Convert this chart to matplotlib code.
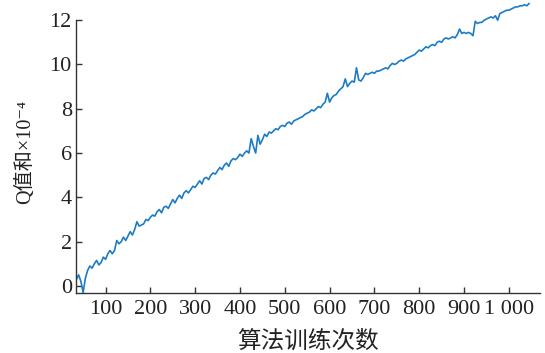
import matplotlib
matplotlib.use("Agg")
import matplotlib.pyplot as plt

plt.rcParams['font.family'] = ['Liberation Serif', 'Noto Sans CJK SC', 'DejaVu Sans']

# training iterations (every 5) and summed Q value (x 1e-4)
iterations = list(range(35, 1050, 5))
q_sum = [0.3, 0.5, 0.2, -0.3, 0.35, 0.7, 0.9, 0.8, 1.0, 1.15,
         0.95, 1.05, 1.3, 1.2, 1.45, 1.6, 1.45, 1.6, 2.05, 1.9,
         2.0, 2.2, 2.05, 2.25, 2.45, 2.3, 2.55, 2.9, 2.7, 2.75,
         2.8, 3.0, 2.95, 3.1, 3.2, 3.15, 3.35, 3.45, 3.3, 3.55,
         3.6, 3.5, 3.7, 3.9, 3.75, 3.95, 4.1, 3.95, 4.2, 4.3,
         4.2, 4.35, 4.5, 4.45, 4.6, 4.75, 4.6, 4.85, 4.9, 4.8,
         5.0, 5.1, 5.05, 5.2, 5.35, 5.25, 5.45, 5.55, 5.4, 5.65,
         5.75, 5.7, 5.8, 5.95, 5.85, 6.0, 6.1, 6.0, 6.65, 6.3,
         6.0, 6.8, 6.4, 6.6, 6.85, 6.75, 6.95, 6.9, 7.0, 7.1,
         7.05, 7.2, 7.25, 7.2, 7.35, 7.4, 7.3, 7.45, 7.5, 7.55,
         7.6, 7.65, 7.75, 7.8, 7.85, 7.95, 7.9, 8.0, 8.1, 8.05,
         8.2, 8.3, 8.7, 8.3, 8.5, 8.6, 8.65, 8.8, 8.9, 9.0,
         9.35, 9.0, 9.15, 9.25, 9.2, 9.85, 9.3, 9.25, 9.4, 9.6,
         9.55, 9.6, 9.65, 9.6, 9.7, 9.7, 9.75, 9.8, 9.85, 9.8,
         9.95, 10.05, 10.0, 10.05, 10.15, 10.2, 10.15, 10.25, 10.3, 10.35,
         10.4, 10.45, 10.55, 10.65, 10.6, 10.7, 10.8, 10.75, 10.85, 10.9,
         10.85, 11.0, 11.05, 11.0, 11.15, 11.2, 11.15, 11.2, 11.25, 11.2,
         11.35, 11.6, 11.4, 11.45, 11.4, 11.45, 11.4, 11.3, 11.95, 11.85,
         11.9, 11.9, 12.0, 12.05, 12.1, 12.15, 12.1, 12.2, 12.0, 12.3,
         12.35, 12.4, 12.45, 12.45, 12.5, 12.55, 12.6, 12.6, 12.65, 12.65,
         12.7, 12.65, 12.75]

xticks = [100, 200, 300, 400, 500, 600, 700, 800, 900, 1000]
xtick_labels = ['100', '200', '300', '400', '500', '600', '700', '800', '900', '1 000']
yticks = [0, 2, 4, 6, 8, 10, 12]

fig = plt.figure(figsize=(5.45, 3.53), dpi=100)
ax = fig.add_axes([0.1394, 0.17, 0.851, 0.823])

ax.plot(iterations, q_sum, color='#1b7cc4', linewidth=1.2)

ax.set_xlim(34, 1069)
ax.set_ylim(-0.32, 12.8)
ax.set_xticks(xticks)
ax.set_xticklabels(xtick_labels)
ax.set_yticks(yticks)

for side in ['top', 'right']:
    ax.spines[side].set_visible(False)
ax.spines['left'].set_bounds(-0.32, 12)
for side in ['left', 'bottom']:
    ax.spines[side].set_color('#333333')
    ax.spines[side].set_linewidth(1.0)

ax.tick_params(direction='in', length=4, width=1, color='#333333',
               labelsize=16, labelcolor='#222222')
ax.tick_params(axis='x', pad=5)
ax.tick_params(axis='y', pad=3)

ax.set_xlabel('算法训练次数', fontsize=17, color='#222222', labelpad=8)
fig.text(25 / 545, 1 - 152 / 353, 'Q值和×10⁻⁴', rotation=90, va='center', ha='center',
         fontsize=14.5, color='#222222')

fig.savefig('out.png', dpi=100)
